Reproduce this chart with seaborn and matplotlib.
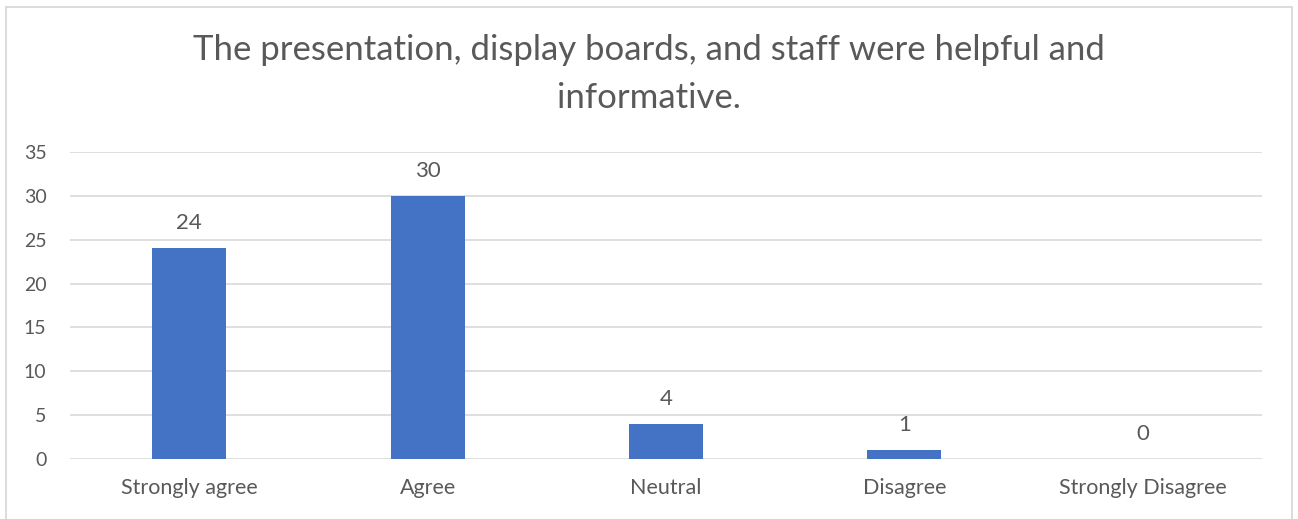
import matplotlib
matplotlib.use('Agg')
import matplotlib.pyplot as plt
import seaborn as sns
import pandas as pd
from matplotlib.patches import Rectangle

categories = ['Strongly agree', 'Agree', 'Neutral', 'Disagree', 'Strongly Disagree']
counts = [24, 30, 4, 1, 0]
title = 'The presentation, display boards, and staff were helpful and\ninformative.'

df = pd.DataFrame({'answer': categories, 'count': counts})

sns.set_theme(style='white')
plt.rcParams['font.family'] = ['Lato', 'DejaVu Sans']
text_col = '#595959'

fig = plt.figure(figsize=(12.98, 5.19), dpi=100)
ax = fig.add_axes([70 / 1298, 1 - 459 / 519, 1192 / 1298, 307 / 519])

sns.barplot(data=df, x='answer', y='count', color='#4472C4', width=0.31,
            saturation=1, linewidth=0, ax=ax)

ax.set_ylim(0, 35)
ax.set_yticks(range(0, 36, 5))
ax.grid(axis='y', color='#D9D9D9', linewidth=1.2)
ax.set_axisbelow(True)
for s in ax.spines.values():
    s.set_visible(False)
ax.set_xlabel('')
ax.set_ylabel('')
ax.tick_params(axis='y', length=0, pad=17, labelsize=14, labelcolor=text_col)
ax.tick_params(axis='x', length=0, pad=14, labelsize=15.5, labelcolor=text_col)

for c in ax.containers:
    ax.bar_label(c, padding=11, fontsize=16, color=text_col)

fig.text(0.5, 1 - 74 / 519, title, ha='center', va='center', fontsize=25,
         color=text_col, linespacing=1.6)

# chart border
fig.patches.append(Rectangle((6 / 1298, -0.05), 1286 / 1298, 1.05 - 7 / 519,
                             transform=fig.transFigure, fill=False,
                             edgecolor='#D9D9D9', linewidth=1.3))

fig.savefig('out.png', dpi=100, facecolor='white')
